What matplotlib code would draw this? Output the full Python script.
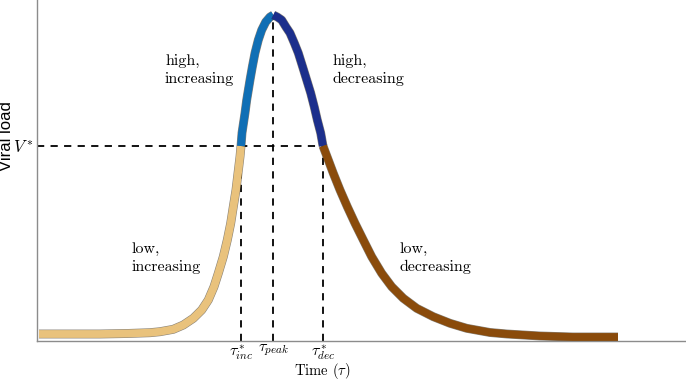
import matplotlib
matplotlib.use("Agg")
import matplotlib.pyplot as plt
import matplotlib.patheffects as pe

plt.rcParams["mathtext.fontset"] = "cm"
plt.rcParams["axes.formatter.use_mathtext"] = True

# ========= data =========
low_inc_t = [0.2, 3.0, 6.3, 9.0, 11.3, 12.3, 13.63, 14.63, 15.63, 16.47, 17.13, 17.7, 18.13,
             18.63, 19.03, 19.37, 19.63, 19.9, 20.1, 20.3, 20.4]
low_inc_v = [0.7, 0.7, 0.7, 0.75, 0.83, 0.93, 1.17, 1.6, 2.27, 3.1, 4.1, 5.43, 6.77,
             8.43, 10.1, 11.77, 13.43, 15.1, 16.77, 18.43, 19.5]

high_inc_t = [20.4, 20.5, 20.8, 20.97, 21.3, 21.53, 21.8, 22.13, 22.47, 22.87, 23.3, 23.63]
high_inc_v = [19.5, 20.8, 22.8, 24.1, 26.1, 27.4, 28.8, 30.1, 31.1, 31.9, 32.4, 32.6]

high_dec_t = [23.63, 24.03, 24.47, 24.9, 25.3, 25.73, 26.13, 26.57, 26.97, 27.37, 27.73,
              28.03, 28.37, 28.6]
high_dec_v = [32.6, 32.4, 32.1, 31.4, 30.8, 29.8, 28.8, 27.4, 26.1, 24.8, 23.4,
              22.1, 20.8, 19.5]

low_dec_t = [28.6, 29.13, 29.63, 30.3, 31.03, 31.8, 32.63, 33.47, 34.47, 35.47, 36.63,
             37.97, 39.63, 41.3, 42.97, 45.3, 47.0, 50.3, 53.6, 58.1]
low_dec_v = [19.5, 18.1, 16.77, 15.1, 13.43, 11.77, 10.1, 8.43, 6.77, 5.43, 4.27,
             3.27, 2.43, 1.77, 1.27, 0.85, 0.7, 0.5, 0.4, 0.4]

v_star = 19.5
tau_inc, tau_peak, tau_dec = 20.4, 23.63, 28.6
v_peak = 32.6

tick_labels = [r"$\tau^*_{inc}$", r"$\tau_{peak}$", r"$\tau^*_{dec}$"]

segments = [
    (low_inc_t, low_inc_v, "#E9C27C"),
    (high_inc_t, high_inc_v, "#106FB5"),
    (high_dec_t, high_dec_v, "#1C2F8C"),
    (low_dec_t, low_dec_v, "#8A4B0B"),
]

region_labels = [
    (12.8, 27.1, "high,\nincreasing"),
    (29.6, 27.1, "high,\ndecreasing"),
    (9.5, 8.3, "low,\nincreasing"),
    (36.3, 8.3, "low,\ndecreasing"),
]

# ========= figure =========
fig = plt.figure(figsize=(6.86, 3.80), dpi=100)
ax = fig.add_axes([37 / 686, 39 / 380, 1 - 37 / 686, 1 - 39 / 380])
ax.set_xlim(0, 64.9)
ax.set_ylim(0, 34.1)

# dashed guides
dash = dict(color="black", lw=1.3, ls=(0, (4, 3.5)), zorder=1)
ax.plot([0, tau_dec], [v_star, v_star], **dash)
ax.plot([tau_inc, tau_inc], [0, v_star], **dash)
ax.plot([tau_peak, tau_peak], [0, v_peak], **dash)
ax.plot([tau_dec, tau_dec], [0, v_star], **dash)

for t, v, c in segments:
    ax.plot(t, v, color=c, lw=5.6, solid_capstyle="butt", solid_joinstyle="round",
            zorder=3,
            path_effects=[pe.Stroke(linewidth=6.4, foreground="#3a3020", alpha=0.6),
                          pe.Normal()])

for x, y, s in region_labels:
    ax.text(x, y, s, family="cmr10", fontsize=11.5, va="center", ha="left",
            linespacing=1.3)

for side in ["top", "right"]:
    ax.spines[side].set_visible(False)
for side in ["left", "bottom"]:
    ax.spines[side].set_color("#8c8c8c")
    ax.spines[side].set_linewidth(1.0)

ax.set_xticks([tau_inc, tau_peak, tau_dec])
ax.set_xticklabels(tick_labels, fontsize=11.5)
ax.set_yticks([v_star])
ax.set_yticklabels([r"$V^*$"], fontsize=12)
ax.tick_params(axis="x", length=0, pad=1)
ax.tick_params(axis="y", length=0, pad=2)

fig.text(322 / 686, 1 - 371 / 380, r"Time ($\tau$)", family="cmr10", fontsize=10.5,
         ha="center", va="center")
fig.text(7 / 686, 1 - 136 / 380, "Viral load", family="Liberation Sans", fontsize=12,
         rotation=90, ha="center", va="center")

fig.savefig("out.png", dpi=100)
